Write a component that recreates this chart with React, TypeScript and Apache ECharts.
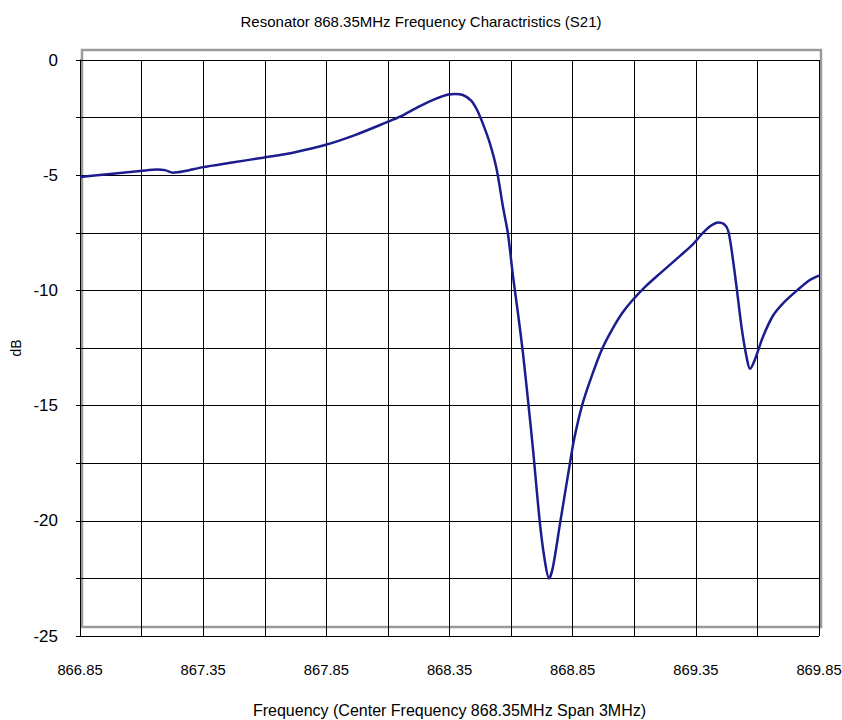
import React, { useEffect, useRef } from "react";
import * as echarts from "echarts";

const TITLE = "Resonator 868.35MHz Frequency Charactristics (S21)";
const X_NAME = "Frequency (Center Frequency 868.35MHz Span 3MHz)";
const Y_NAME = "dB";
const START_FREQ = 866.85;
const SPAN = 3;

const freqs = [
  866.85, 866.972, 867.094, 867.163, 867.195, 867.228, 867.276, 867.345, 867.467, 867.593,
  867.723, 867.845, 867.966, 868.096, 868.149, 868.23, 868.291, 868.344, 868.372, 868.404,
  868.437, 868.461, 868.485, 868.514, 868.542, 868.567, 868.587, 868.608, 868.628, 868.648,
  868.669, 868.689, 868.717, 868.738, 868.754, 868.77, 868.799, 868.839, 868.855, 868.888,
  868.928, 868.969, 869.01, 869.05, 869.091, 869.144, 869.205, 869.286, 869.338, 869.375,
  869.408, 869.44, 869.464, 869.481, 869.497, 869.517, 869.537, 869.558, 869.57, 869.59,
  869.623, 869.663, 869.704, 869.761, 869.813, 869.85,
];
const s21 = [
  -5.08, -4.95, -4.82, -4.75, -4.78, -4.89, -4.82, -4.66, -4.45, -4.24,
  -4.0, -3.69, -3.26, -2.7, -2.46, -2.0, -1.7, -1.5, -1.48, -1.52,
  -1.75, -2.15, -2.75, -3.62, -4.77, -6.37, -7.52, -9.4, -11.0, -12.7,
  -14.8, -16.9, -20.1, -21.8, -22.5, -22.0, -20.1, -17.5, -16.5, -15.0,
  -13.7, -12.55, -11.7, -11.0, -10.45, -9.85, -9.26, -8.5, -8.0, -7.55,
  -7.22, -7.05, -7.12, -7.4, -8.38, -10.0, -11.7, -13.0, -13.4, -13.0,
  -12.0, -11.1, -10.56, -10.0, -9.55, -9.36,
];

const FONT = "Liberation Sans";

export default function App() {
  const ref = useRef<HTMLDivElement>(null);
  useEffect(() => {
    if (!ref.current) return;
    const chart = echarts.init(ref.current, null, { renderer: "svg" });
    const data = freqs.map((f, i) => [f - START_FREQ, s21[i]]);
    chart.setOption({
      animation: false,
      backgroundColor: "#ffffff",
      textStyle: { fontFamily: FONT },
      title: {
        text: TITLE,
        left: "center",
        top: 9,
        textStyle: { fontFamily: FONT, fontSize: 15, fontWeight: "normal", color: "#000" },
      },
      grid: {
        left: 80,
        right: 23,
        top: 60,
        bottom: 84,
        containLabel: false,
        outerBoundsMode: "none",
      },
      graphic: [
        {
          type: "rect",
          z: -10,
          shape: { x: 82, y: 50, width: 739, height: 577 },
          style: { fill: "none", stroke: "#9a9a9a", lineWidth: 2.5 },
        },
      ],
      xAxis: {
        type: "value",
        min: 0,
        max: SPAN,
        interval: 0.25,
        name: X_NAME,
        nameLocation: "middle",
        nameGap: 66,
        nameTextStyle: { fontFamily: FONT, fontSize: 16, color: "#000" },
        axisLine: { show: true, lineStyle: { color: "#000", width: 1 } },
        axisTick: { show: false },
        axisLabel: {
          margin: 26,
          fontFamily: FONT,
          fontSize: 14.8,
          color: "#000",
          showMinLabel: true,
          showMaxLabel: true,
          formatter: (v: number) => {
            const k = Math.round(v / 0.25);
            return k % 2 === 0 ? (START_FREQ + v).toFixed(2) : "";
          },
        },
        splitLine: { show: true, lineStyle: { color: "#000", width: 1 } },
      },
      yAxis: {
        type: "value",
        min: -25,
        max: 0,
        interval: 2.5,
        name: Y_NAME,
        nameLocation: "middle",
        nameGap: 56,
        nameRotate: 90,
        nameTextStyle: { fontFamily: FONT, fontSize: 14, color: "#000" },
        axisLine: { show: true, lineStyle: { color: "#000", width: 1 } },
        axisTick: { show: true, inside: false, length: 4, lineStyle: { color: "#000" } },
        axisLabel: {
          margin: 22,
          fontFamily: FONT,
          fontSize: 17,
          color: "#000",
          formatter: (v: number) => (Math.abs(v % 5) < 1e-9 ? String(v) : ""),
        },
        splitLine: { show: true, lineStyle: { color: "#000", width: 1 } },
      },
      series: [
        {
          type: "line",
          data,
          smooth: 0.3,
          showSymbol: false,
          symbol: "none",
          lineStyle: { color: "#1c1c8f", width: 2.5 },
          z: 5,
        },
      ],
    });
    return () => chart.dispose();
  }, []);
  return (
    <div
      ref={ref}
      style={{ position: "absolute", left: 0, top: 0, width: 842, height: 720 }}
    />
  );
}
